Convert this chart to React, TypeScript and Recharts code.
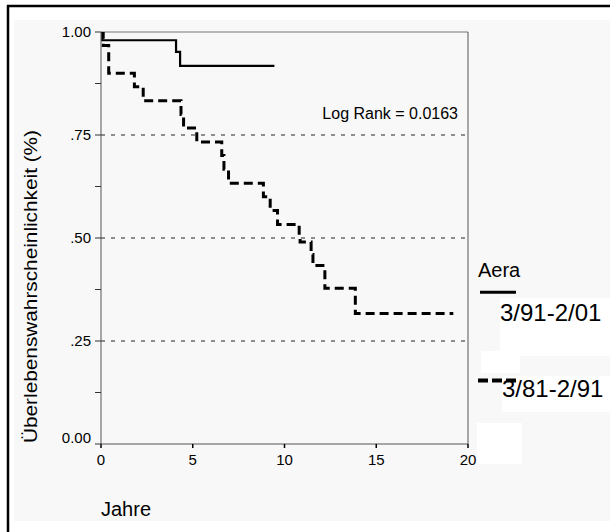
import React from 'react';
import { LineChart, Line, XAxis, YAxis, ReferenceLine } from 'recharts';

// Era 3/91-2/01 (solid)
const recentTimes = [0, 0.07, 4.09, 4.31, 9.45];
const recentSurvival = [1.0, 0.98, 0.952, 0.918, 0.918];

// Era 3/81-2/91 (dashed)
const earlyTimes = [0, 0.12, 0.42, 1.82, 2.3, 4.36, 4.5, 5.22, 6.58, 6.7, 6.95, 8.85, 9.22, 9.62, 10.8, 10.85, 11.45, 11.55, 12.2, 13.86, 19.2];
const earlySurvival = [1.0, 0.967, 0.9, 0.867, 0.833, 0.8, 0.767, 0.733, 0.7, 0.667, 0.633, 0.6, 0.567, 0.533, 0.5, 0.49, 0.46, 0.433, 0.378, 0.317, 0.317];

const xTicks = [0, 5, 10, 15, 20];
const yTicks = [0, 0.125, 0.25, 0.375, 0.5, 0.625, 0.75, 0.875, 1];
const yTickLabels: Record<string, string> = { '0': '0.00', '0.25': '.25', '0.5': '.50', '0.75': '.75', '1': '1.00' };
const gridValues = [0.25, 0.5, 0.75];

const seriesNames = ['3/91-2/01', '3/81-2/91'];
const legendTitle = 'Aera';
const xTitle = 'Jahre';
const yTitle = 'Überlebenswahrscheinlichkeit (%)';
const note = 'Log Rank = 0.0163';

const recentData = recentTimes.map((t, i) => ({ t, s: recentSurvival[i] }));
const earlyData = earlyTimes.map((t, i) => ({ t, s: earlySurvival[i] }));

const FONT = 'Arial, "Liberation Sans", sans-serif';

const YTick = (props: any) => {
  const { x, y, payload } = props;
  const v = payload?.value;
  const label = yTickLabels[String(v)] ?? '';
  if (!label) return null;
  return (
    <text
      x={x}
      y={v === 0 ? y - 6 : y}
      dy="0.355em"
      textAnchor="end"
      fontSize={15}
      fill="#000"
      fontFamily={FONT}
    >
      {label}
    </text>
  );
};

export default function App() {
  return (
    <div style={{ position: 'absolute', left: 0, top: 0, width: 610, height: 532, background: '#fff' }}>
      <svg width={610} height={532} style={{ position: 'absolute', left: 0, top: 0 }} fontFamily={FONT}>
        <rect x={0} y={0} width={610} height={532} fill="#ffffff" />
        <rect x={14} y={20} width={596} height={501} fill="#f8f8f8" />
        {/* white patches around legend */}
        <rect x={500} y={298} width={110} height={58} fill="#ffffff" />
        <rect x={481} y={351} width={39} height={22} fill="#ffffff" />
        <rect x={502} y={376} width={108} height={36} fill="#ffffff" />
        <rect x={477} y={423} width={45} height={41} fill="#ffffff" />
        {/* outer black frame */}
        <line x1={7} y1={6} x2={610} y2={6} stroke="#000" strokeWidth={2.5} />
        <line x1={8} y1={5} x2={8} y2={532} stroke="#000" strokeWidth={2.5} />
        {/* titles */}
        <text
          x={37}
          y={286.5}
          fontSize={18}
          textAnchor="middle"
          textLength={313}
          lengthAdjust="spacingAndGlyphs"
          transform="rotate(-90 37 286.5)"
          fill="#000"
        >
          {yTitle}
        </text>
        <text x={101} y={516} fontSize={20} fill="#000">{xTitle}</text>
        <text x={458} y={119} fontSize={16} textAnchor="end" fill="#000">{note}</text>
        {/* legend */}
        <text x={478} y={277} fontSize={20} fill="#000">{legendTitle}</text>
        <line x1={480} y1={292.3} x2={516} y2={292.3} stroke="#000" strokeWidth={3} />
        <text x={500} y={321} fontSize={24} fill="#000">{seriesNames[0]}</text>
        <line x1={478} y1={380.5} x2={517} y2={380.5} stroke="#000" strokeWidth={4} strokeDasharray="10 4" />
        <text x={502} y={397} fontSize={24} fill="#000">{seriesNames[1]}</text>
      </svg>
      <div style={{ position: 'absolute', left: 0, top: 0 }}>
        <LineChart width={610} height={532} margin={{ top: 32, right: 142, bottom: 58, left: 41 }}>
          <XAxis
            type="number"
            dataKey="t"
            domain={[0, 20]}
            ticks={xTicks}
            allowDataOverflow
            height={30}
            tickSize={4}
            tickMargin={6}
            axisLine={{ stroke: '#555', strokeWidth: 1 }}
            tickLine={{ stroke: '#000', strokeWidth: 1.5 }}
            tick={{ fontSize: 15, fill: '#000', fontFamily: FONT }}
          />
          <YAxis
            type="number"
            dataKey="s"
            domain={[0, 1]}
            ticks={yTicks}
            allowDataOverflow
            width={60}
            tickSize={6}
            tickMargin={4}
            interval={0}
            axisLine={{ stroke: '#555', strokeWidth: 1 }}
            tickLine={{ stroke: '#333', strokeWidth: 1 }}
            tick={<YTick />}
          />
          {gridValues.map((v) => (
            <ReferenceLine key={v} y={v} stroke="#222" strokeWidth={1} strokeDasharray="4 6" />
          ))}
          <ReferenceLine y={1} stroke="#777" strokeWidth={1} />
          <ReferenceLine x={20} stroke="#555" strokeWidth={1} />
          <Line
            data={recentData}
            dataKey="s"
            type="stepAfter"
            stroke="#000"
            strokeWidth={2.2}
            dot={false}
            activeDot={false}
            isAnimationActive={false}
            name={seriesNames[0]}
          />
          <Line
            data={earlyData}
            dataKey="s"
            type="stepAfter"
            stroke="#000"
            strokeWidth={3}
            strokeDasharray="9 5"
            dot={false}
            activeDot={false}
            isAnimationActive={false}
            name={seriesNames[1]}
          />
        </LineChart>
      </div>
    </div>
  );
}
